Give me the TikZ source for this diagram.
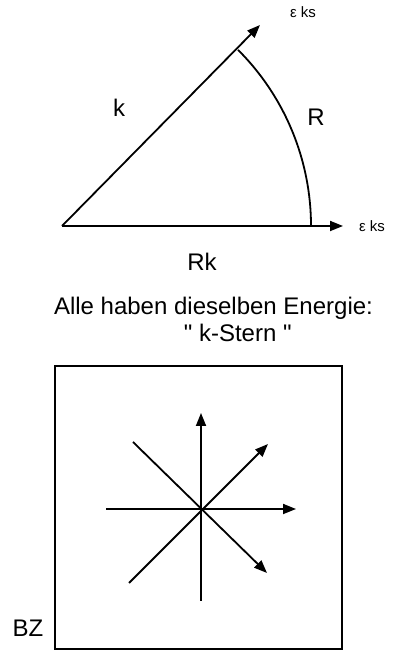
\documentclass[tikz,border=0pt]{standalone}
\usepackage{fontspec}
\setmainfont{Liberation Sans}
\newfontfamily\straightfont{Liberation Sans}[Ligatures=TeXOff]
\usetikzlibrary{arrows.meta}
\begin{document}
\begin{tikzpicture}[x=1pt, y=1pt, >={Triangle[length=13pt,width=10pt]}, line width=1.8pt,
    lbl/.style={font=\fontsize{24}{27}\selectfont, inner sep=0pt},
    small/.style={font=\fontsize{15}{17}\selectfont, inner sep=0pt}]
    \useasboundingbox (0,0) rectangle (393,652);

    % Sektor mit Radius k
    \coordinate (O) at (62,426);
    \coordinate (Kx) at (343,426);
    \coordinate (Kd) at (260,627);
    \draw[->] (O) -- (Kx);
    \draw[->] (O) -- (Kd);
    \draw (311,426) arc[start angle=0, end angle=45, radius=249];
    \node[small] (ex) at (372,426) {ε ks};
    \node[small] (ed) at (303,640) {ε ks};
    \node[lbl] (k) at (119,544) {k};
    \node[lbl] (R) at (316,535) {R};
    \node[lbl] (Rk) at (202,390) {Rk};

    \node[lbl] (alle) at (213.5,344) {Alle haben dieselben Energie:};
    \node[lbl, anchor=west] (stern) at (183,319) {\straightfont " k-Stern "};

    % Brillouin-Zone mit Stern
    \node[draw, minimum width=287pt, minimum height=283pt, inner sep=0pt] (bz) at (198.5,144.5) {};
    \node[lbl] (bzl) at (28,24) {BZ};
    \coordinate (N) at (201,239);
    \coordinate (S) at (201,51);
    \coordinate (W) at (106,143);
    \coordinate (E) at (296,143);
    \coordinate (NW) at (133,210);
    \coordinate (NE) at (268,208);
    \coordinate (SW) at (129,69);
    \coordinate (SE) at (267,79);
    \draw[->] (S) -- (N);
    \draw[->] (W) -- (E);
    \draw[->] (SW) -- (NE);
    \draw[->] (NW) -- (SE);
\end{tikzpicture}
\end{document}
